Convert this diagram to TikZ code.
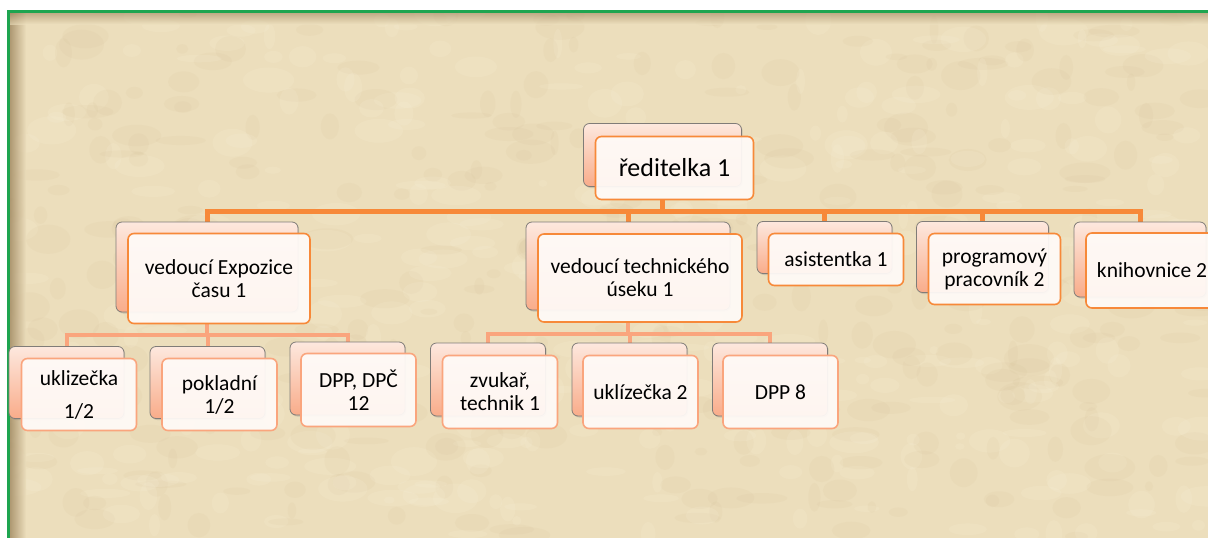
\documentclass[tikz,border=0pt]{standalone}
\usepackage{fontspec}
\setmainfont{Carlito}
\usetikzlibrary{shadows,calc}
\definecolor{bg}{RGB}{236,222,188}
\definecolor{bgd}{RGB}{200,175,130}
\definecolor{bgl}{RGB}{248,240,215}
\definecolor{edgeshade}{RGB}{150,125,85}
\definecolor{framegreen}{RGB}{30,165,80}
\definecolor{orA}{RGB}{247,137,57}
\definecolor{orB}{RGB}{250,165,125}
\definecolor{backtop}{RGB}{253,232,222}
\definecolor{backbot}{RGB}{249,172,138}
\definecolor{backedge}{RGB}{128,124,120}
\definecolor{frontfill}{RGB}{255,250,247}
\pgfdeclarelayer{parchment}
\pgfdeclarelayer{links}
\pgfsetlayers{parchment,links,main}
\tikzset{
  backbox/.style={rectangle, rounded corners=6pt, draw=backedge, line width=0.8pt,
    top color=backtop, bottom color=backbot, inner sep=0pt,
    drop shadow={opacity=0.3, shadow xshift=1.2pt, shadow yshift=-1.5pt}},
  frontbase/.style={rectangle, rounded corners=6pt, line width=1.6pt,
    fill=frontfill, fill opacity=0.94, text opacity=1, inner sep=0pt,
    align=center, text=black, font=\fontsize{21.5}{23}\selectfont},
  frontA/.style={frontbase, draw=orA},
  frontB/.style={frontbase, draw=orB},
  frontR/.style={frontA, font=\fontsize{26}{30}\selectfont},
  linkA/.style={draw=orA, line width=5pt},
  linkB/.style={draw=orB, line width=4pt},
}
% #1 name, #2 back centre, #3 front centre, #4 width, #5 height, #6 front style, #7 text
\newcommand\orgbox[7]{%
  \node[backbox, minimum width=#4pt, minimum height=#5pt] (#1-back) at (#2) {};
  \node[#6, minimum width=#4pt, minimum height=#5pt] (#1) at (#3) {#7};}
\begin{document}
\begin{tikzpicture}[x=1pt,y=-1pt]
\useasboundingbox (0,0) rectangle (1208,538);
\begin{pgfonlayer}{parchment}
  \fill[white] (0,0) rectangle (1208,538);
  \fill[bg] (8,11) rectangle (1208,538);
  \begin{scope}
    \clip (8,11) rectangle (1208,538);
    \pgfmathsetseed{4711}
    \foreach \i in {1,...,700}{
      \pgfmathsetmacro\px{8+rnd*1200}
      \pgfmathsetmacro\py{11+rnd*527}
      \pgfmathsetmacro\rx{4+rnd*22}
      \pgfmathsetmacro\ry{3+rnd*12}
      \pgfmathsetmacro\tone{rnd}
      \ifdim\tone pt<0.55pt
        \fill[bgl, opacity=0.18] (\px,\py) ellipse ({\rx} and {\ry});
      \else
        \fill[bgd, opacity=0.07] (\px,\py) ellipse ({\rx} and {\ry});
      \fi
    }
    \shade[left color=edgeshade, right color=bg, opacity=0.8] (8,11) rectangle (26,538);
    \shade[top color=edgeshade, bottom color=bg, opacity=0.6] (8,11) rectangle (1208,24);
  \end{scope}
  \draw[framegreen, line width=3pt] (8.5,538) -- (8.5,11.5) -- (1208,11.5);
\end{pgfonlayer}

% level 0
\orgbox{root}{662.5,155}{674.5,168}{158}{63}{frontR}{ředitelka 1}
% level 1
\orgbox{vexp}{207,267}{219,278.5}{182}{90}{frontA}{vedoucí Expozice\\času 1}
\orgbox{vtech}{628,266}{640,278}{204}{88}{frontA}{vedoucí technického\\úseku 1}
\orgbox{asist}{824.5,247.5}{836,259.5}{135}{52}{frontA}{asistentka 1}
\orgbox{prog}{982.5,257}{994.5,269}{132}{71}{frontA}{programový\\pracovník 2}
\orgbox{knih}{1140,259.5}{1152,270.5}{132}{75}{frontA}{knihovnice 2}
% level 2
\orgbox{ukl}{66.5,382.5}{79,394.5}{115}{72}{frontB}{uklizečka\\[10pt]1/2}
\orgbox{pokl}{207.5,382.5}{219.5,394.5}{115}{72}{frontB}{pokladní\\1/2}
\orgbox{dpp}{347.5,378.5}{358.5,390}{115}{73}{frontB}{DPP, DPČ\\12}
\orgbox{zvuk}{488,379.5}{500,392}{115}{73}{frontB}{zvukař,\\technik 1}
\orgbox{uklz}{629.5,379.5}{640.5,392}{115}{73}{frontB}{uklízečka 2}
\orgbox{dppe}{770,379.5}{780.5,392}{115}{73}{frontB}{DPP 8}

\begin{pgfonlayer}{links}
  \coordinate (bus1) at (662.5,211);
  \draw[linkA] (root-back.south |- root.south) -- (bus1);
  \foreach \c in {vexp,vtech,asist,prog,knih}{
    \draw[linkA] (bus1) -| (\c-back.north);
  }
  \coordinate (bus2) at (207,335);
  \draw[linkB] (vexp-back.south |- vexp.south) -- (bus2);
  \foreach \c in {ukl,pokl,dpp}{
    \draw[linkB] (bus2) -| (\c-back.north);
  }
  \coordinate (bus3) at (628,334);
  \draw[linkB] (vtech-back.south |- vtech.south) -- (bus3);
  \foreach \c in {zvuk,uklz,dppe}{
    \draw[linkB] (bus3) -| (\c-back.north);
  }
\end{pgfonlayer}
\end{tikzpicture}
\end{document}
